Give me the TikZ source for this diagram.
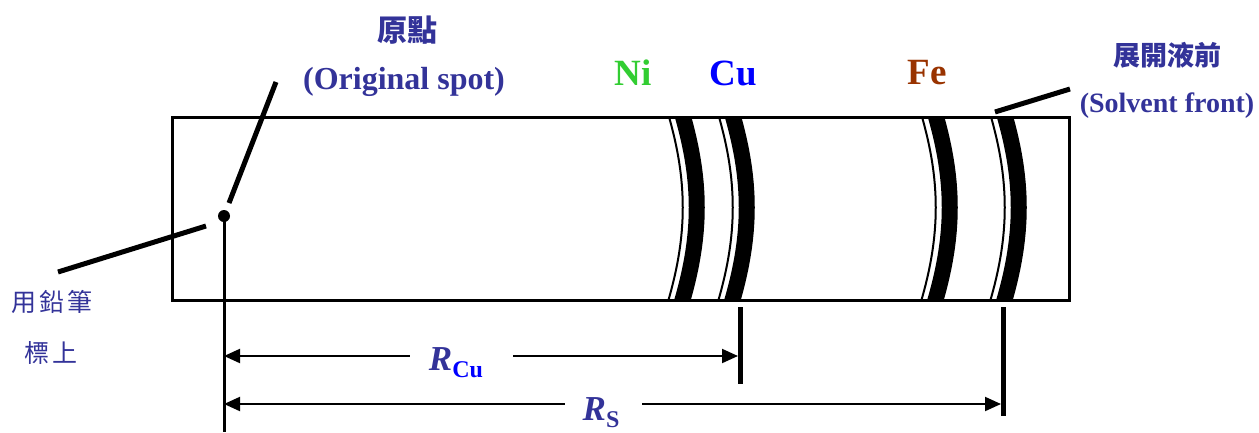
\documentclass[tikz,border=0pt]{standalone}
\usepackage{fontspec}
\setmainfont{Liberation Serif}
\newfontfamily\cjk{Noto Sans CJK TC}
\usetikzlibrary{arrows.meta}
\definecolor{lblue}{RGB}{51,51,153}
\definecolor{nigreen}{RGB}{50,205,50}
\definecolor{cublue}{RGB}{0,0,255}
\definecolor{febrown}{RGB}{153,51,0}
\tikzset{
  lbl/.style={text=lblue,font=\bfseries\fontsize{#1}{#1}\selectfont,inner sep=0pt},
  cjklbl/.style={text=lblue,font=\cjk\fontsize{#1}{#1}\selectfont,inner sep=0pt},
  elem/.style={font=\bfseries\fontsize{37}{37}\selectfont,inner sep=0pt},
  pointer/.style={line width=5pt},
  tipL/.style={line width=2pt,{Triangle[length=16pt,width=14pt]}-},
  tipR/.style={line width=2pt,-{Triangle[length=16pt,width=14pt]}},
  tick/.style={line width=5pt},
  thinband/.style={line width=2pt},
  thickband/.style={line width=16pt}
}
\newcommand{\bandpair}[1]{%
  \draw[thinband] (#1,110) .. controls (#1+21,180) and (#1+21,235) .. (#1,305);
  \draw[thickband] (#1+14,110) .. controls (#1+35,180) and (#1+35,235) .. (#1+14,305);
}
\begin{document}
\begin{tikzpicture}[x=1pt,y=-1pt]
\useasboundingbox (0,0) rectangle (1259,432);
% plate
\node[draw,line width=3pt,minimum width=897pt,minimum height=183pt,inner sep=0pt,anchor=north west] (plate) at (171,116) {};
% bands
\begin{scope}
  \clip (171,116) rectangle (1068,299);
  \bandpair{667}
  \bandpair{717}
  \bandpair{920}
  \bandpair{989}
\end{scope}
% origin spot
\node[circle,fill=black,minimum size=12pt,inner sep=0pt] (o) at (224,216) {};
\coordinate (obot) at (224,432);
\draw[line width=3pt] (o.center) -- (obot);
% labels
\node[cjklbl=30,font=\cjk\bfseries\fontsize{30}{30}\selectfont] (yuandian) at (407,30) {原點};
\node[lbl=32] (ospot) at (404,82) {(Original spot)};
\node[cjklbl=27,font=\cjk\bfseries\fontsize{27}{27}\selectfont] (zhankai) at (1167,55) {展開液前};
\node[lbl=28] (sfront) at (1167,106) {(Solvent front)};
\node[cjklbl=25] (pencil1) at (52,302) {用\hspace{3pt}鉛\hspace{3pt}筆};
\node[cjklbl=25] (pencil2) at (51,353) {標\hspace{3pt}上};
\node[elem,text=nigreen] (ni) at (633,73) {Ni};
\node[elem,text=cublue] (cu) at (733,73) {Cu};
\node[elem,text=febrown] (fe) at (927,73) {Fe};
% pointers
\coordinate (p1a) at (276,82);
\coordinate (p1b) at (229,203);
\draw[pointer] (p1a) -- (p1b);
\coordinate (p2a) at (58,272);
\coordinate (p2b) at (206,226);
\draw[pointer] (p2a) -- (p2b);
\coordinate (p3a) at (1070,89);
\coordinate (p3b) at (995,112);
\draw[pointer] (p3a) -- (p3b);
% ticks
\coordinate (cut) at (740,307);
\coordinate (cub) at (740,384);
\draw[tick] (cut) -- (cub);
\coordinate (sft) at (1003,307);
\coordinate (sfb) at (1003,416);
\draw[tick] (sft) -- (sfb);
% dimension arrows
\coordinate (rcuL) at (224,356);
\coordinate (rcuGL) at (410,356);
\coordinate (rcuGR) at (513,356);
\coordinate (rcuR) at (738,356);
\draw[tipL] (rcuL) -- (rcuGL);
\draw[tipR] (rcuGR) -- (rcuR);
\node[inner sep=0pt] (rculbl) at (456,363)
  {\textcolor{lblue}{\bfseries\itshape\fontsize{35}{35}\selectfont R}\raisebox{-7pt}{\textcolor{cublue}{\bfseries\fontsize{24}{24}\selectfont Cu}}};
\coordinate (rsL) at (224,404);
\coordinate (rsGL) at (565,404);
\coordinate (rsGR) at (642,404);
\coordinate (rsR) at (1001,404);
\draw[tipL] (rsL) -- (rsGL);
\draw[tipR] (rsGR) -- (rsR);
\node[inner sep=0pt] (rslbl) at (601,413)
  {\textcolor{lblue}{\bfseries\itshape\fontsize{35}{35}\selectfont R}\raisebox{-7pt}{\textcolor{lblue}{\bfseries\fontsize{24}{24}\selectfont S}}};
\end{tikzpicture}
\end{document}
